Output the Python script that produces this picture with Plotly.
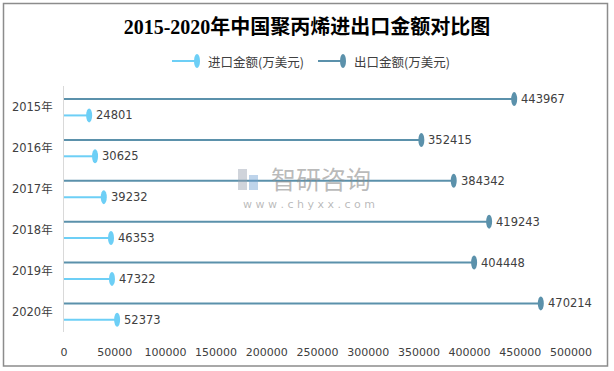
import plotly.graph_objects as go

# ---- data ----
years = ["2015年", "2016年", "2017年", "2018年", "2019年", "2020年"]
import_vals = [24801, 30625, 39232, 46353, 47322, 52373]
export_vals = [443967, 352415, 384342, 419243, 404448, 470214]
x_ticks = [0, 50000, 100000, 150000, 200000, 250000, 300000, 350000, 400000, 450000, 500000]
import_name = "进口金额(万美元)"
export_name = "出口金额(万美元)"
title_text = "2015-2020年中国聚丙烯进出口金额对比图"

# ---- style ----
W, H = 614, 371
L, R, T, B = 64, 571, 86, 332  # plot area pixel bounds
import_color = "#6DCFF6"
export_color = "#5B91AB"
txt_color = "#404040"
num_font = "DejaVu Sans, Noto Sans CJK SC"
cjk_font = "Noto Sans CJK SC, DejaVu Sans"

def px_x(p):
    return (p - L) / (R - L)

def px_y(p):
    return (B - p) / (B - T)

offset = 0.2
idx = list(range(len(years)))
exp_pos = [i - offset for i in idx]
imp_pos = [i + offset for i in idx]

fig = go.Figure()

def stems(vals, pos):
    xs, ys = [], []
    for v, p in zip(vals, pos):
        xs += [0, v, None]
        ys += [p, p, None]
    return xs, ys

ex, ey = stems(export_vals, exp_pos)
ix, iy = stems(import_vals, imp_pos)
fig.add_trace(go.Scatter(x=ex, y=ey, mode="lines", name=export_name,
                         line=dict(color=export_color, width=2), showlegend=False,
                         hoverinfo="skip"))
fig.add_trace(go.Scatter(x=ix, y=iy, mode="lines", name=import_name,
                         line=dict(color=import_color, width=2), showlegend=False,
                         hoverinfo="skip"))

shapes = []
annotations = []

def ellipse(xref, yref, xa, ya, color):
    return dict(type="circle", xref=xref, yref=yref,
                xsizemode="pixel", xanchor=xa, x0=-3, x1=3,
                ysizemode="pixel", yanchor=ya, y0=-7, y1=7,
                fillcolor=color, line=dict(width=0), layer="above")

for vals, pos, color in [(export_vals, exp_pos, export_color), (import_vals, imp_pos, import_color)]:
    for v, p in zip(vals, pos):
        shapes.append(ellipse("x", "y", v, p, color))
        annotations.append(dict(x=v, y=p, xref="x", yref="y", text=str(v),
                                showarrow=False, xanchor="left", yanchor="middle",
                                xshift=5, font=dict(family=num_font, size=11.5, color=txt_color)))

# outer border
shapes.append(dict(type="rect", xref="paper", yref="paper",
                   x0=px_x(3.5), x1=px_x(607.5), y0=px_y(366), y1=px_y(3.5),
                   line=dict(color="#8C8C8C", width=1.5), fillcolor="rgba(0,0,0,0)", layer="below"))

# legend (manual)
leg_y = px_y(61)
for (x0, x1, tx, name, color) in [(172, 197, 206, import_name, import_color),
                                  (318, 343, 352, export_name, export_color)]:
    shapes.append(dict(type="line", xref="paper", yref="paper",
                       x0=px_x(x0), x1=px_x(x1), y0=leg_y, y1=leg_y,
                       line=dict(color=color, width=2)))
    shapes.append(ellipse("paper", "paper", px_x(x1), leg_y, color))
    annotations.append(dict(x=px_x(tx), y=leg_y, xref="paper", yref="paper", text=name,
                            showarrow=False, xanchor="left", yanchor="middle",
                            font=dict(family=cjk_font, size=12.5, color=txt_color)))

# watermark
annotations.append(dict(x=px_x(321), y=px_y(178), xref="paper", yref="paper", text="智研咨询",
                        showarrow=False, xanchor="center", yanchor="middle",
                        font=dict(family=cjk_font, size=25, color="rgba(140,140,140,0.6)")))
annotations.append(dict(x=px_x(309), y=px_y(204), xref="paper", yref="paper",
                        text="w w w . c h y x x . c o m",
                        showarrow=False, xanchor="center", yanchor="middle",
                        font=dict(family="DejaVu Sans", size=11, color="rgba(140,140,140,0.6)")))
shapes.append(dict(type="rect", xref="paper", yref="paper",
                   x0=px_x(238), x1=px_x(247), y0=px_y(190), y1=px_y(169),
                   line=dict(width=0), fillcolor="rgba(150,160,175,0.45)"))
shapes.append(dict(type="rect", xref="paper", yref="paper",
                   x0=px_x(249), x1=px_x(258), y0=px_y(190), y1=px_y(175),
                   line=dict(width=0), fillcolor="rgba(110,160,210,0.45)"))

fig.update_layout(
    width=W, height=H,
    margin=dict(l=L, r=W - R, t=T, b=H - B, pad=0),
    paper_bgcolor="white", plot_bgcolor="white",
    title=dict(text="<b>" + title_text + "</b>", xref="container", yref="container",
               x=0.5, xanchor="center", y=1 - 27 / H, yanchor="middle",
               font=dict(family="Liberation Serif, Noto Sans CJK SC", size=20, color="black")),
    xaxis=dict(range=[0, 500000], tickvals=x_ticks, ticktext=[str(t) for t in x_ticks],
               showgrid=False, zeroline=False, showline=False,
               ticks="outside", ticklen=10, tickcolor="rgba(0,0,0,0)",
               tickfont=dict(family=num_font, size=11, color=txt_color)),
    yaxis=dict(range=[5.5, -0.52], tickvals=idx, ticktext=years,
               showgrid=False, zeroline=False, showline=True, linecolor="#D9D9D9", linewidth=1,
               ticks="outside", ticklen=8, tickcolor="rgba(0,0,0,0)",
               tickfont=dict(family=num_font, size=11.5, color=txt_color)),
    shapes=shapes, annotations=annotations, showlegend=False,
)

fig.write_html("out.html", config={"displayModeBar": False},
               post_script="document.body.style.margin='0';document.body.style.overflow='hidden';")
